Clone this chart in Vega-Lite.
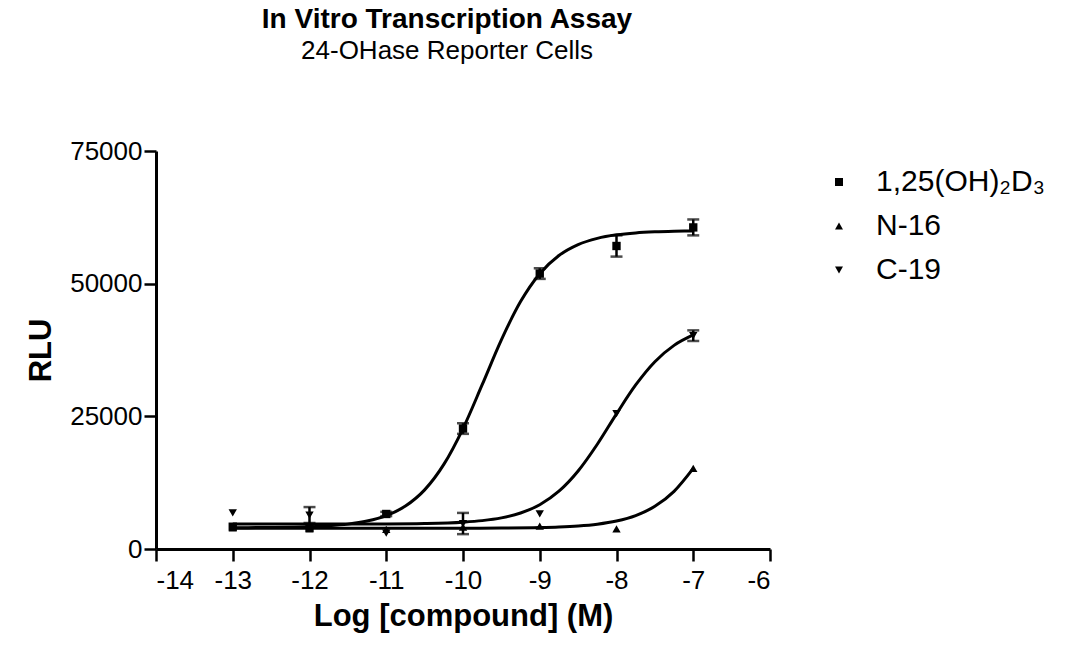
{
  "$schema": "https://vega.github.io/schema/vega-lite/v6.json",
  "width": 614,
  "height": 398,
  "autosize": {"type": "none"},
  "padding": {"left": 156, "top": 151, "right": 302, "bottom": 103},
  "background": "white",
  "config": {
    "view": {"stroke": null},
    "font": "Liberation Sans",
    "axis": {
      "grid": false,
      "domainColor": "black",
      "domainWidth": 3,
      "tickColor": "black",
      "tickWidth": 2.5,
      "tickSize": 12,
      "labelColor": "black",
      "labelFont": "Liberation Sans",
      "labelFontSize": 26,
      "titleColor": "black",
      "titleFont": "Liberation Sans",
      "titleFontSize": 31,
      "titleFontWeight": "bold"
    },
    "legend": {
      "orient": "none",
      "legendX": 668,
      "legendY": 16,
      "labelFont": "Liberation Sans",
      "labelFontSize": 30,
      "labelColor": "black",
      "symbolSize": 64,
      "symbolFillColor": "black",
      "symbolStrokeColor": "black",
      "rowPadding": 14,
      "labelOffset": 22,
      "labelLimit": 400
    }
  },
  "title": {
    "text": "In Vitro Transcription Assay",
    "subtitle": "24-OHase Reporter Cells",
    "font": "Liberation Sans",
    "fontSize": 28,
    "fontWeight": "bold",
    "color": "black",
    "subtitleFont": "Liberation Sans",
    "subtitleFontSize": 26,
    "subtitleColor": "black",
    "subtitlePadding": 4,
    "anchor": "middle",
    "offset": 74,
    "dx": -16
  },
  "datasets": {
    "points": [
      {"series": "1,25(OH)₂D₃", "x": -13, "y": 4200},
      {"series": "1,25(OH)₂D₃", "x": -12, "y": 4000},
      {"series": "1,25(OH)₂D₃", "x": -11, "y": 6600},
      {"series": "1,25(OH)₂D₃", "x": -10, "y": 22700},
      {"series": "1,25(OH)₂D₃", "x": -9, "y": 51900},
      {"series": "1,25(OH)₂D₃", "x": -8, "y": 57100},
      {"series": "1,25(OH)₂D₃", "x": -7, "y": 60600},
      {"series": "N-16", "x": -13, "y": 4000},
      {"series": "N-16", "x": -12, "y": 3800},
      {"series": "N-16", "x": -11, "y": 3700},
      {"series": "N-16", "x": -10, "y": 4100},
      {"series": "N-16", "x": -9, "y": 4300},
      {"series": "N-16", "x": -8, "y": 3800},
      {"series": "N-16", "x": -7, "y": 15200},
      {"series": "C-19", "x": -13, "y": 6800},
      {"series": "C-19", "x": -12, "y": 6400},
      {"series": "C-19", "x": -11, "y": 3000},
      {"series": "C-19", "x": -10, "y": 4800},
      {"series": "C-19", "x": -9, "y": 6600},
      {"series": "C-19", "x": -8, "y": 25500},
      {"series": "C-19", "x": -7, "y": 40200}
    ],
    "errs": [
      {"series": "1,25(OH)₂D₃", "x": -11, "lo": 6200, "hi": 7000},
      {"series": "1,25(OH)₂D₃", "x": -10, "lo": 21700, "hi": 23700},
      {"series": "1,25(OH)₂D₃", "x": -9, "lo": 50900, "hi": 52900},
      {"series": "1,25(OH)₂D₃", "x": -8, "lo": 55100, "hi": 59100},
      {"series": "1,25(OH)₂D₃", "x": -7, "lo": 59100, "hi": 62100},
      {"series": "C-19", "x": -12, "lo": 4900, "hi": 7900},
      {"series": "C-19", "x": -10, "lo": 2800, "hi": 6800},
      {"series": "C-19", "x": -7, "lo": 39200, "hi": 41200}
    ],
    "curves": [
      {"series": "1,25(OH)₂D₃", "x": -13, "y": 4017},
      {"series": "1,25(OH)₂D₃", "x": -12.5, "y": 4059},
      {"series": "1,25(OH)₂D₃", "x": -12, "y": 4202},
      {"series": "1,25(OH)₂D₃", "x": -11.75, "y": 4373},
      {"series": "1,25(OH)₂D₃", "x": -11.5, "y": 4687},
      {"series": "1,25(OH)₂D₃", "x": -11.25, "y": 5262},
      {"series": "1,25(OH)₂D₃", "x": -11, "y": 6290},
      {"series": "1,25(OH)₂D₃", "x": -10.75, "y": 8094},
      {"series": "1,25(OH)₂D₃", "x": -10.5, "y": 11140},
      {"series": "1,25(OH)₂D₃", "x": -10.25, "y": 15940},
      {"series": "1,25(OH)₂D₃", "x": -10, "y": 22700},
      {"series": "1,25(OH)₂D₃", "x": -9.75, "y": 30960},
      {"series": "1,25(OH)₂D₃", "x": -9.5, "y": 39410},
      {"series": "1,25(OH)₂D₃", "x": -9.25, "y": 46620},
      {"series": "1,25(OH)₂D₃", "x": -9, "y": 51880},
      {"series": "1,25(OH)₂D₃", "x": -8.75, "y": 55300},
      {"series": "1,25(OH)₂D₃", "x": -8.5, "y": 57360},
      {"series": "1,25(OH)₂D₃", "x": -8.25, "y": 58540},
      {"series": "1,25(OH)₂D₃", "x": -8, "y": 59200},
      {"series": "1,25(OH)₂D₃", "x": -7.75, "y": 59570},
      {"series": "1,25(OH)₂D₃", "x": -7.5, "y": 59765},
      {"series": "1,25(OH)₂D₃", "x": -7.25, "y": 59873},
      {"series": "1,25(OH)₂D₃", "x": -7, "y": 59932},
      {"series": "C-19", "x": -13, "y": 4700},
      {"series": "C-19", "x": -12, "y": 4703},
      {"series": "C-19", "x": -11, "y": 4732},
      {"series": "C-19", "x": -10.5, "y": 4806},
      {"series": "C-19", "x": -10, "y": 5055},
      {"series": "C-19", "x": -9.75, "y": 5346},
      {"series": "C-19", "x": -9.5, "y": 5865},
      {"series": "C-19", "x": -9.25, "y": 6783},
      {"series": "C-19", "x": -9, "y": 8350},
      {"series": "C-19", "x": -8.75, "y": 10890},
      {"series": "C-19", "x": -8.5, "y": 14700},
      {"series": "C-19", "x": -8.25, "y": 19740},
      {"series": "C-19", "x": -8, "y": 25470},
      {"series": "C-19", "x": -7.75, "y": 30910},
      {"series": "C-19", "x": -7.5, "y": 35300},
      {"series": "C-19", "x": -7.25, "y": 38370},
      {"series": "C-19", "x": -7, "y": 40330},
      {"series": "N-16", "x": -13, "y": 3900},
      {"series": "N-16", "x": -12, "y": 3900},
      {"series": "N-16", "x": -11, "y": 3901},
      {"series": "N-16", "x": -10, "y": 3914},
      {"series": "N-16", "x": -9.5, "y": 3945},
      {"series": "N-16", "x": -9, "y": 4041},
      {"series": "N-16", "x": -8.75, "y": 4151},
      {"series": "N-16", "x": -8.5, "y": 4344},
      {"series": "N-16", "x": -8.25, "y": 4685},
      {"series": "N-16", "x": -8, "y": 5281},
      {"series": "N-16", "x": -7.75, "y": 6306},
      {"series": "N-16", "x": -7.5, "y": 8040},
      {"series": "N-16", "x": -7.25, "y": 10860},
      {"series": "N-16", "x": -7, "y": 15180}
    ]
  },
  "layer": [
    {
      "data": {"name": "curves"},
      "mark": {"type": "line", "color": "black", "strokeWidth": 3, "interpolate": "monotone"},
      "encoding": {
        "x": {
          "field": "x", "type": "quantitative", "title": "Log [compound] (M)",
          "scale": {"domain": [-14, -6], "nice": false},
          "axis": {"values": [-14, -13, -12, -11, -10, -9, -8, -7, -6], "labelExpr": "'' + datum.value", "labelPadding": 6, "titlePadding": 8}
        },
        "y": {
          "field": "y", "type": "quantitative", "title": "RLU",
          "scale": {"domain": [0, 75000], "nice": false},
          "axis": {"values": [0, 25000, 50000, 75000], "labelExpr": "'' + datum.value", "labelPadding": 2, "titlePadding": 12}
        },
        "detail": {"field": "series"}
      }
    },
    {
      "data": {"name": "errs"},
      "mark": {"type": "rule", "color": "black", "strokeWidth": 2.5},
      "encoding": {
        "x": {"field": "x", "type": "quantitative", "title": "Log [compound] (M)"},
        "y": {"field": "lo", "type": "quantitative", "title": "RLU"},
        "y2": {"field": "hi"}
      }
    },
    {
      "data": {"name": "errs"},
      "mark": {"type": "tick", "orient": "horizontal", "color": "black", "thickness": 2.5, "size": 12},
      "encoding": {
        "x": {"field": "x", "type": "quantitative", "title": "Log [compound] (M)"},
        "y": {"field": "lo", "type": "quantitative", "title": "RLU"}
      }
    },
    {
      "data": {"name": "errs"},
      "mark": {"type": "tick", "orient": "horizontal", "color": "black", "thickness": 2.5, "size": 12},
      "encoding": {
        "x": {"field": "x", "type": "quantitative", "title": "Log [compound] (M)"},
        "y": {"field": "hi", "type": "quantitative", "title": "RLU"}
      }
    },
    {
      "data": {"name": "points"},
      "mark": {"type": "point", "filled": true, "color": "black", "opacity": 1, "size": 70},
      "encoding": {
        "x": {"field": "x", "type": "quantitative", "title": "Log [compound] (M)"},
        "y": {"field": "y", "type": "quantitative", "title": "RLU"},
        "shape": {
          "field": "series", "type": "nominal",
          "scale": {"domain": ["1,25(OH)₂D₃", "N-16", "C-19"], "range": ["square", "triangle-up", "triangle-down"]},
          "legend": {"title": null}
        }
      }
    }
  ]
}
